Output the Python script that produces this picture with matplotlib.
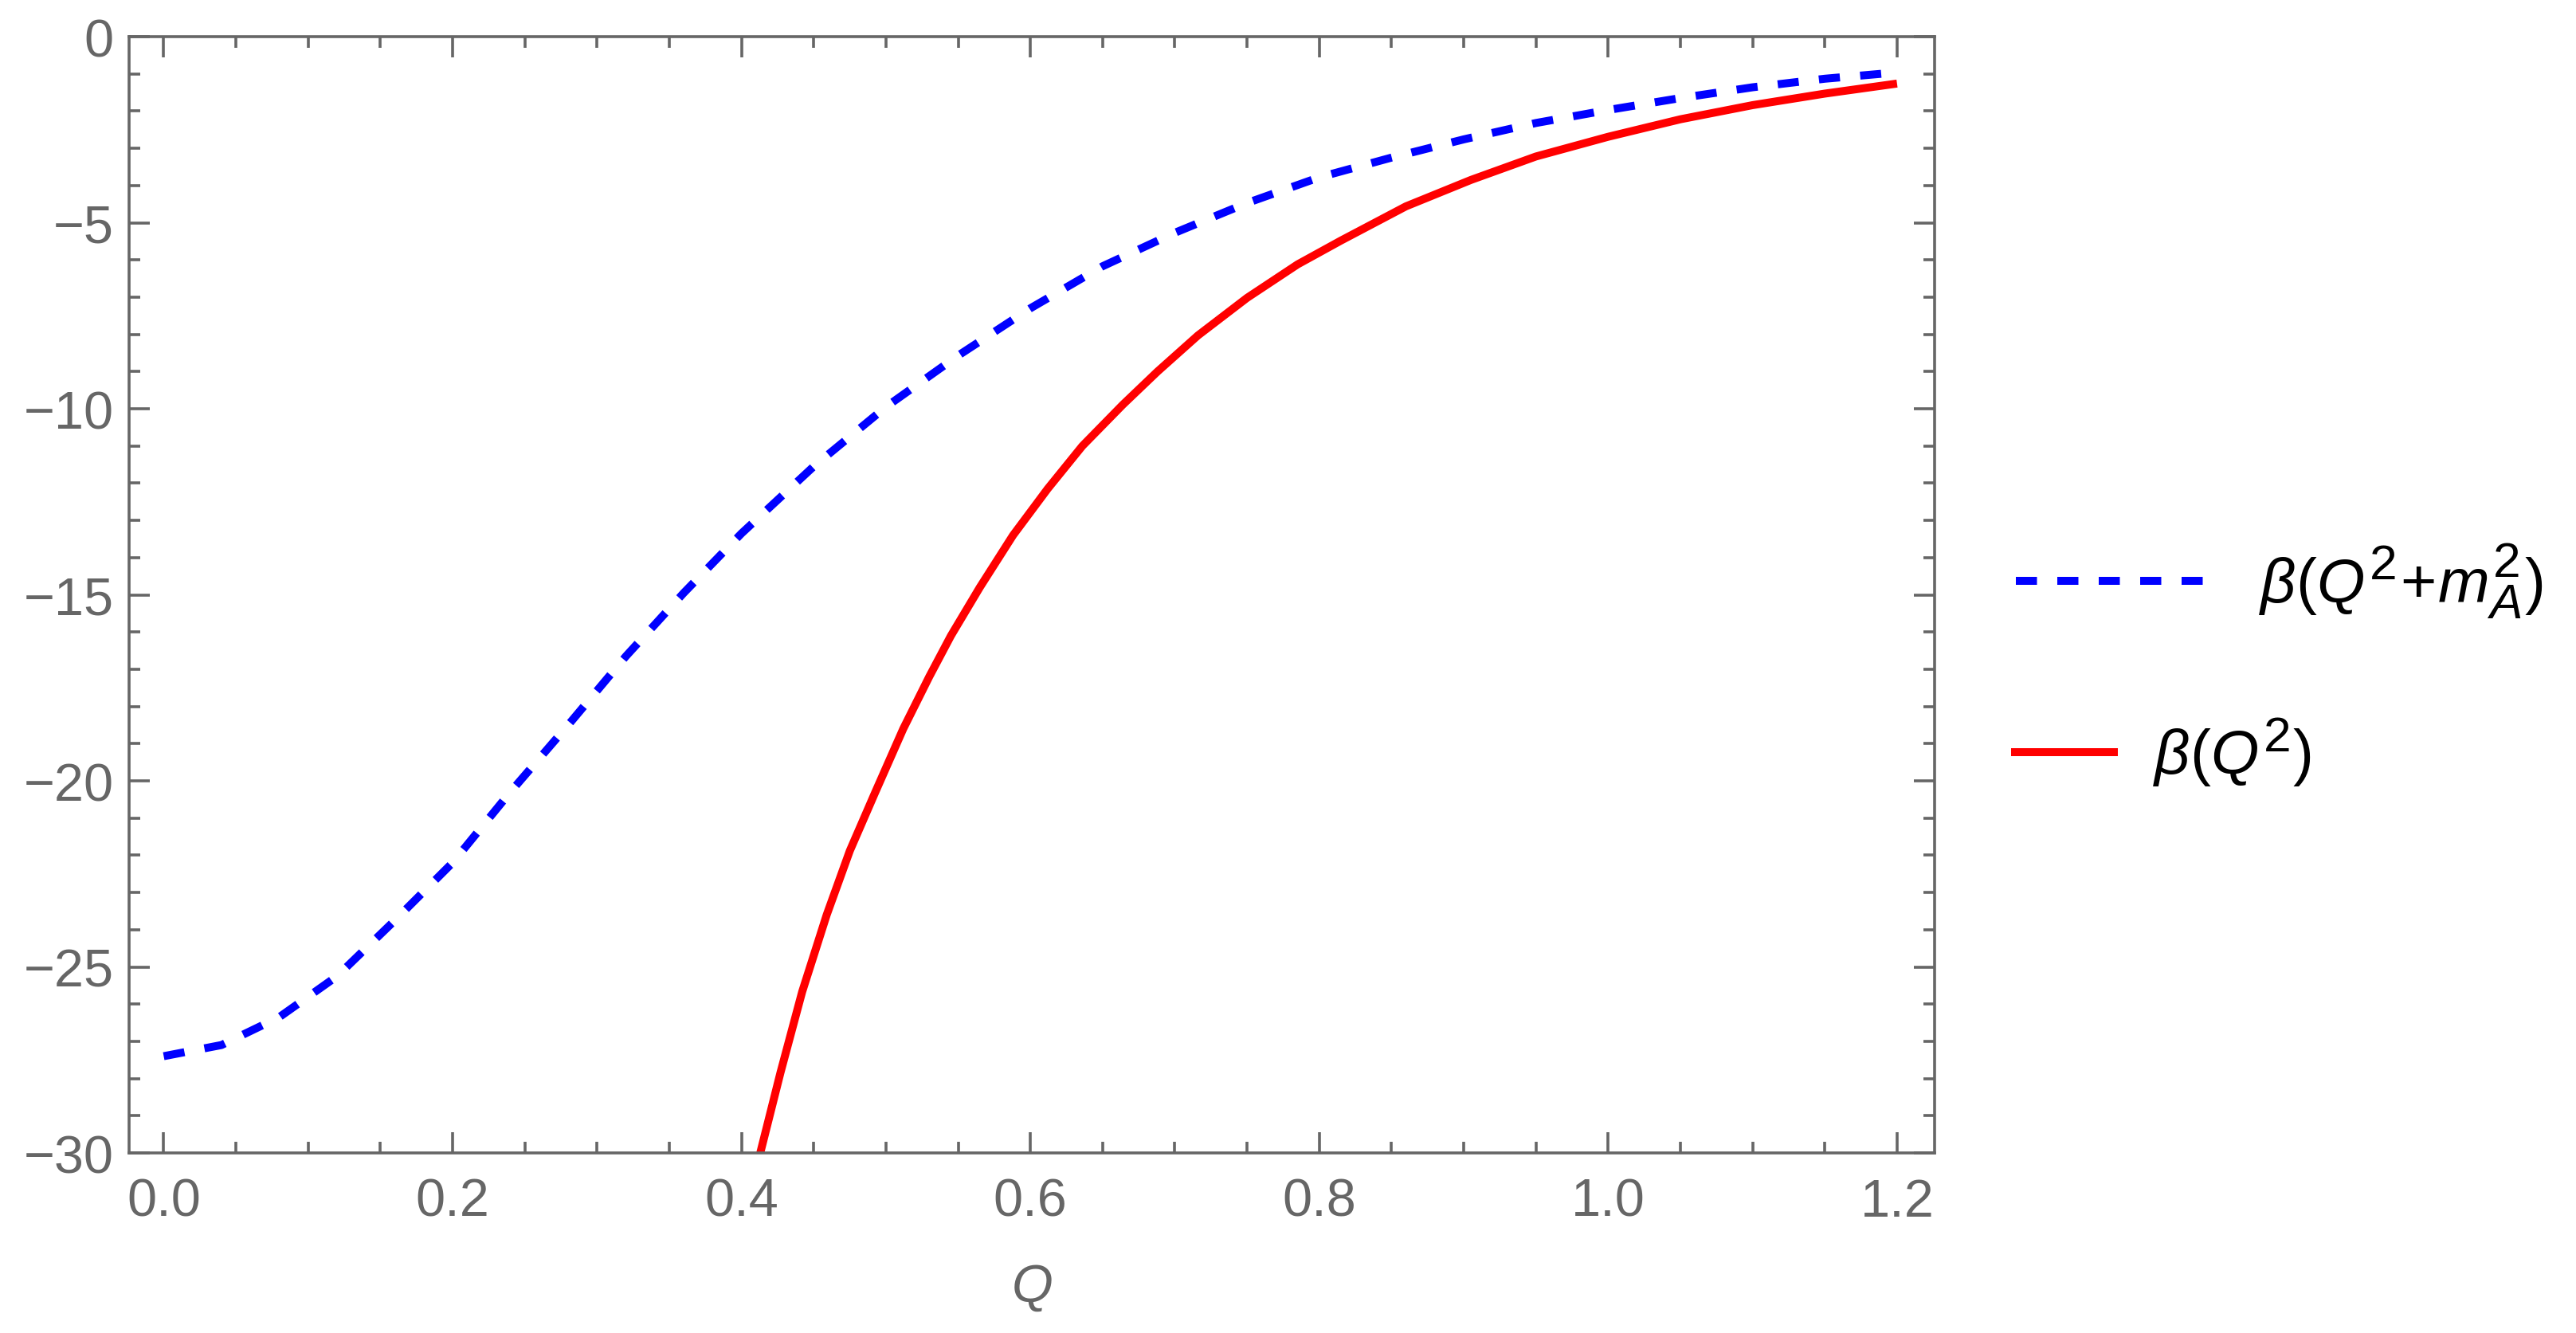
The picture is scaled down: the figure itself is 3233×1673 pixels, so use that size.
import matplotlib
matplotlib.use("Agg")
import matplotlib.pyplot as plt
from matplotlib.ticker import MultipleLocator, FormatStrFormatter

try:
    import matplotlib._mathtext as _mt
    _mt.SHRINK_FACTOR = 0.8
except Exception:
    pass

# ---- data ----
q_blue = [0.0, 0.04, 0.08, 0.12, 0.16, 0.20, 0.24, 0.28, 0.32, 0.36, 0.40,
          0.45, 0.50, 0.55, 0.60, 0.65, 0.70, 0.75, 0.80, 0.85, 0.90, 0.95,
          1.00, 1.05, 1.10, 1.15, 1.20]
beta_shifted = [-27.40, -27.10, -26.35, -25.25, -23.75, -22.20, -20.30, -18.50,
                -16.65, -14.95, -13.35, -11.55, -9.95, -8.57, -7.30, -6.17,
                -5.27, -4.47, -3.78, -3.25, -2.76, -2.32, -1.97, -1.65, -1.36,
                -1.13, -0.96]

q_red = [0.413, 0.427, 0.442, 0.459, 0.475, 0.492, 0.512, 0.530, 0.545, 0.565,
         0.588, 0.612, 0.636, 0.664, 0.688, 0.716, 0.750, 0.785, 0.815, 0.860,
         0.905, 0.950, 1.000, 1.050, 1.100, 1.150, 1.200]
beta_plain = [-30.0, -27.84, -25.67, -23.6, -21.88, -20.36, -18.6, -17.2, -16.1,
              -14.8, -13.4, -12.15, -11.0, -9.89, -9.0, -8.03, -7.02, -6.12,
              -5.48, -4.56, -3.85, -3.22, -2.69, -2.22, -1.84, -1.53, -1.26]

label_blue = r'$\beta(Q^2\!+\!m_A^2)$'
label_red = r'$\beta(Q^2)$'
x_label = r'$Q$'

# ---- style ----
plt.rcParams['font.family'] = ['Liberation Sans', 'DejaVu Sans']
plt.rcParams['mathtext.fontset'] = 'custom'
plt.rcParams['mathtext.rm'] = 'Liberation Sans'
plt.rcParams['mathtext.it'] = 'Liberation Sans:italic'
plt.rcParams['mathtext.bf'] = 'Liberation Sans:bold'

GRAY = '#666666'
DPI = 200
fig = plt.figure(figsize=(3233 / DPI, 1674 / DPI), dpi=DPI)
ax = fig.add_axes([0.0501, 0.1350, 0.7009, 0.8369])

lw = 3.6
ln_blue, = ax.plot(q_blue, beta_shifted, color='#0000FF', lw=lw,
                   dashes=(2.65, 2.55), dash_capstyle='butt')
ln_red, = ax.plot(q_red, beta_plain, color='#FF0000', lw=lw,
                  solid_capstyle='butt', solid_joinstyle='round')

ax.set_xlim(-0.024, 1.226)
ax.set_ylim(-30, 0)

ax.xaxis.set_major_locator(MultipleLocator(0.2))
ax.xaxis.set_minor_locator(MultipleLocator(0.05))
ax.xaxis.set_major_formatter(FormatStrFormatter('%.1f'))
ax.yaxis.set_major_locator(MultipleLocator(5))
ax.yaxis.set_minor_locator(MultipleLocator(1))

for sp in ax.spines.values():
    sp.set_color(GRAY)
    sp.set_linewidth(1.3)

ax.tick_params(which='both', direction='in', top=True, right=True,
               color=GRAY, labelcolor=GRAY, width=1.3)
ax.tick_params(which='major', length=9.5)
ax.tick_params(which='minor', length=5)
ax.tick_params(axis='x', which='major', labelsize=24, pad=11)
ax.tick_params(axis='y', which='major', labelsize=24, pad=7)

ax.set_xlabel(x_label, fontsize=24, color=GRAY, labelpad=16)

fs = 28
leg1 = fig.legend(handles=[ln_blue], labels=[label_blue], loc='center left',
                  bbox_to_anchor=(0.7826, 0.5645), frameon=False, fontsize=fs,
                  handlelength=3.10, handletextpad=0.82, borderpad=0,
                  borderaxespad=0)
leg2 = fig.legend(handles=[ln_red], labels=[label_red], loc='center left',
                  bbox_to_anchor=(0.7807, 0.4361), frameon=False, fontsize=fs,
                  handlelength=1.72, handletextpad=0.57, borderpad=0,
                  borderaxespad=0)

fig.savefig('out.png', dpi=DPI, facecolor='white')
